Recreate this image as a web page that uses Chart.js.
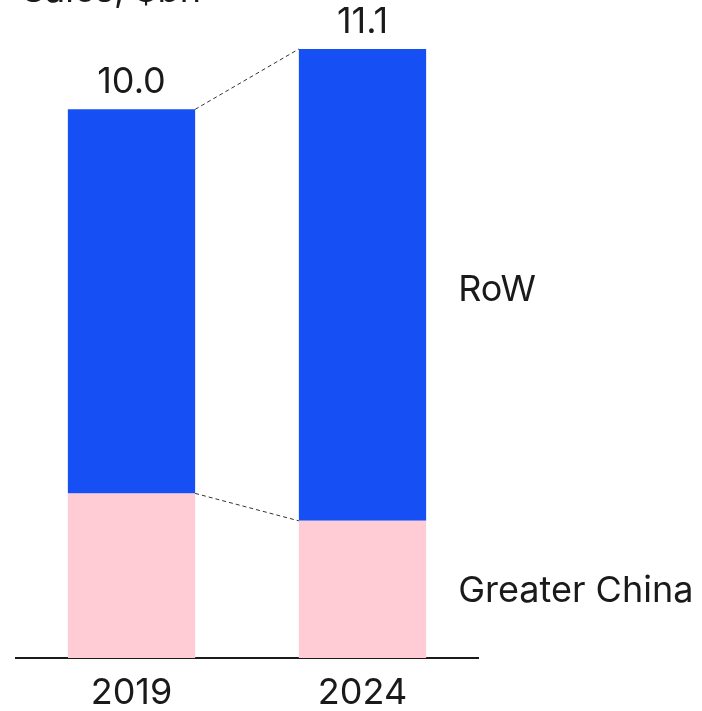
<!DOCTYPE html>
<html>
<head>
<meta charset="utf-8">
<script src="https://cdn.jsdelivr.net/npm/chart.js@4.4.1/dist/chart.umd.min.js"></script>
<style>
  html, body { margin: 0; padding: 0; background: #fff; }
  #wrap { width: 702px; height: 711px; position: relative; }
</style>
</head>
<body>
<div id="wrap"><canvas id="c"></canvas></div>
<script>
const years = ['2019', '2024'];
const greaterChina = [3.0, 2.5];
const restOfWorld = [7.0, 8.6];
const totals = ['10.0', '11.1'];
const seriesNames = ['Greater China', 'RoW'];
const title = 'Sales, $bn';

const FONT = 'Inter, "Noto Sans", sans-serif';
const SIZE = 36;

// labels, totals and the dashed connectors between the bars
const annotate = {
    id: 'annotate',
    afterDatasetsDraw(chart) {
        const ctx = chart.ctx;
        const lower = chart.getDatasetMeta(0).data;
        const upper = chart.getDatasetMeta(1).data;

        ctx.save();
        ctx.fillStyle = '#1a1a1a';
        ctx.font = SIZE + 'px ' + FONT;

        // title, mostly cut off at the top edge
        ctx.textAlign = 'left';
        ctx.textBaseline = 'alphabetic';
        ctx.fillText(title, 22, 1.5);

        // totals above the bars
        ctx.textAlign = 'center';
        upper.forEach((bar, i) => {
            ctx.fillText(totals[i], bar.x, bar.y - 16);
        });

        // dashed connectors
        ctx.strokeStyle = '#333';
        ctx.lineWidth = 1;
        ctx.setLineDash([4, 3]);
        [lower, upper].forEach((bars) => {
            const a = bars[0], b = bars[1];
            ctx.beginPath();
            ctx.moveTo(a.x + a.width / 2, a.y);
            ctx.lineTo(b.x - b.width / 2, b.y);
            ctx.stroke();
        });
        ctx.setLineDash([]);

        // series names to the right of the last bar
        ctx.textBaseline = 'middle';
        ctx.textAlign = 'left';
        const last = years.length - 1;
        const lb = lower[last], ub = upper[last];
        ctx.fillText(seriesNames[0], lb.x + lb.width / 2 + 32, (lb.y + lb.base) / 2 + 2);
        ctx.fillText(seriesNames[1], ub.x + ub.width / 2 + 32, (ub.y + ub.base) / 2 + 5);
        ctx.restore();
    }
};

new Chart(document.getElementById('c'), {
    type: 'bar',
    data: {
        labels: years,
        datasets: [
            {
                label: seriesNames[0],
                data: greaterChina,
                backgroundColor: '#ffccd6',
                barPercentage: 0.551,
                categoryPercentage: 1
            },
            {
                label: seriesNames[1],
                data: restOfWorld,
                backgroundColor: '#1650f5',
                barPercentage: 0.551,
                categoryPercentage: 1
            }
        ]
    },
    options: {
        responsive: true,
        maintainAspectRatio: false,
        animation: false,
        layout: { padding: { left: 16, right: 224, top: 49, bottom: -17 } },
        plugins: {
            legend: { display: false },
            tooltip: { enabled: false }
        },
        scales: {
            x: {
                stacked: true,
                grid: { display: false, drawTicks: false },
                border: { display: true, color: '#1a1a1a', width: 2 },
                ticks: {
                    color: '#1a1a1a',
                    font: { family: FONT, size: SIZE, lineHeight: 1 },
                    padding: 17
                }
            },
            y: {
                stacked: true,
                display: false,
                min: 0,
                max: 11.1
            }
        }
    },
    plugins: [annotate]
});
</script>
</body>
</html>
